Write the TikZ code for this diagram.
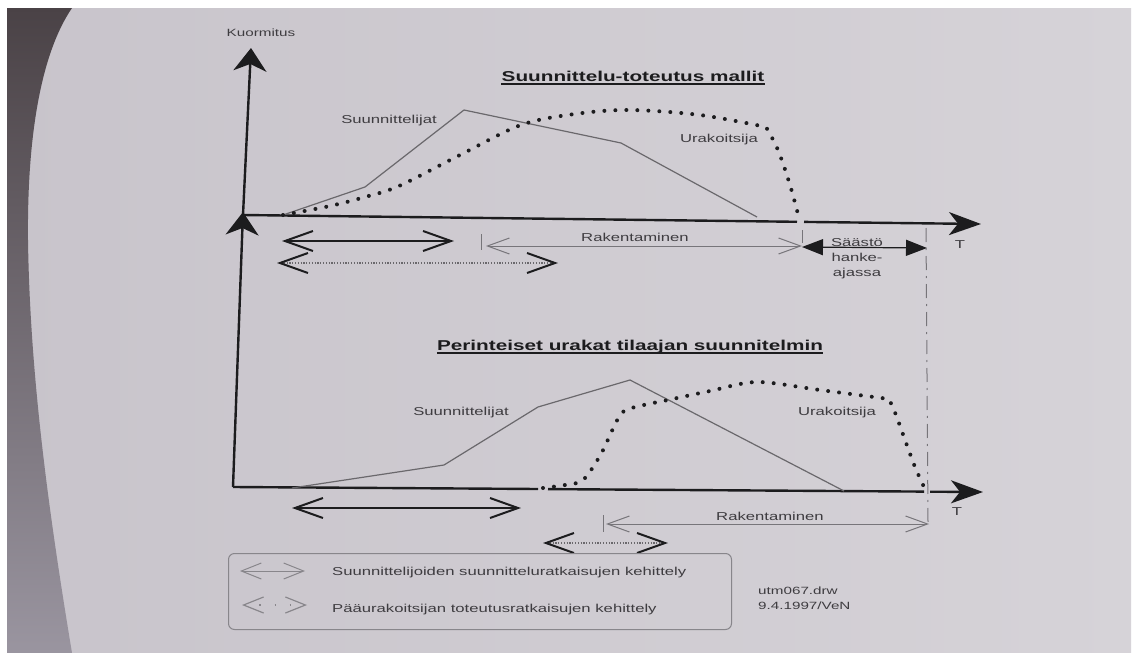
\documentclass[tikz,border=0pt]{standalone}
\usepackage{fontspec}
\setmainfont{Liberation Sans}
\usetikzlibrary{arrows.meta}
\definecolor{ink}{HTML}{1C1C1E}
\definecolor{labelc}{HTML}{3E3C40}
\definecolor{curvec}{HTML}{6A686C}
\definecolor{thinc}{HTML}{77757A}
\definecolor{legc}{HTML}{88868B}
\definecolor{paperL}{HTML}{C8C4CB}
\definecolor{paperR}{HTML}{D6D3D8}
\definecolor{shadeT}{HTML}{4A4246}
\definecolor{shadeB}{HTML}{9A95A0}
\newcommand{\wx}[1]{\scalebox{1.45}[1]{#1}}
\begin{document}
\begin{tikzpicture}[x=1pt,y=-1pt,
  axis/.style={draw=ink, line width=2.4pt},
  vtip/.style={-{Stealth[length=23pt,width=33pt,inset=7pt]}},
  htip/.style={-{Stealth[length=32pt,width=23pt,inset=9pt]}},
  design/.style={draw=curvec, line width=1.2pt, line join=round},
  contr/.style={draw=ink, line width=4pt, line cap=round, dash pattern=on 0pt off 11pt},
  dbl/.style={draw=ink, line width=2pt, {Straight Barb[length=28pt,width=20pt]}-{Straight Barb[length=28pt,width=20pt]}},
  dbldot/.style={draw=curvec, line width=1.3pt, dash pattern=on 1.2pt off 1.6pt, {Straight Barb[length=28pt,width=20pt,color=ink,line width=2pt]}-{Straight Barb[length=28pt,width=20pt,color=ink,line width=2pt]}},
  rak/.style={draw=thinc, line width=1pt, {Straight Barb[length=22pt,width=16pt]}-{Straight Barb[length=22pt,width=16pt]}},
  tick/.style={draw=thinc, line width=1pt},
  saa/.style={draw=ink, line width=1.2pt, {Triangle[length=21pt,width=16pt]}-{Triangle[length=21pt,width=16pt]}},
  dashdot/.style={draw=thinc, line width=1pt, dash pattern=on 14pt off 6pt on 2pt off 6pt},
  leg/.style={draw=legc, line width=1pt, {Straight Barb[length=20pt,width=16pt]}-{Straight Barb[length=20pt,width=16pt]}},
  legdot/.style={draw=legc, line width=1.2pt, dash pattern=on 1.2pt off 14pt, {Straight Barb[length=20pt,width=16pt]}-{Straight Barb[length=20pt,width=16pt]}},
  lbl/.style={inner sep=0pt, text=labelc, font=\fontsize{11.5}{14}\selectfont},
  ttl/.style={inner sep=0pt, text=ink, font=\fontsize{14.3}{17}\selectfont\bfseries},
  small/.style={inner sep=0pt, text=labelc, font=\fontsize{10.5}{13}\selectfont}
]
\useasboundingbox (0,0) rectangle (1136,653);
% background (photo of the page)
\fill[white] (0,0) rectangle (1136,653);
\shade[left color=paperL, right color=paperR] (7,8) rectangle (1131,653);
\shade[top color=shadeT, bottom color=shadeB] (7,8) -- (72,8) .. controls (40,55) and (27,140) .. (28,240) .. controls (30,380) and (50,520) .. (72,653) -- (7,653) -- cycle;

% coordinates
\coordinate (o1) at (243,215);
\coordinate (y1) at (251,48);
\coordinate (o2) at (233,487);
\coordinate (y2) at (243,212);
\coordinate (g1a) at (797,221.8);
\coordinate (g1b) at (804,221.9);
\coordinate (x1) at (981,224);
\coordinate (g2a) at (538,489);
\coordinate (g2b) at (548,489.1);
\coordinate (g2c) at (924,491.6);
\coordinate (g2d) at (930,491.7);
\coordinate (x2) at (983,492);

% axes
\draw[axis,vtip] (o2) -- (y2);
\draw[axis,vtip] (o1) -- (y1);
\draw[axis] (o1) -- (g1a);
\draw[axis,htip] (g1b) -- (x1);
\draw[axis] (o2) -- (g2a);
\draw[axis] (g2b) -- (g2c);
\draw[axis,htip] (g2d) -- (x2);

% upper curves
\draw[design] (283,215) -- (365,187) -- (464,110) -- (621,143) -- (757,217);
\draw[contr] plot[smooth, tension=0.55] coordinates {(283,215) (330,206) (365,197) (399,186) (460,155) (521,125) (575,114) (629,110) (700,115) (766,127)}
  -- plot[smooth, tension=0.55] coordinates {(766,127) (778,150) (790,185) (799,218)};

% lower curves
\draw[design] (292,488) -- (444,465) -- (538,407) -- (630,380) -- (844,491);
\draw[contr] plot[smooth, tension=0.5] coordinates {(543,488) (565,485) (583,480) (601,454) (621,414) (640,406) (668,400) (710,391) (757,382) (820,390) (889,399)}
  -- plot[smooth, tension=0.5] coordinates {(889,399) (896,415) (905,440) (915,467) (924,487)};

% titles
\node[ttl, anchor=base] (title1) at (633,81) {\wx{Suunnittelu-toteutus mallit}};
\draw[ink, line width=1.2pt] ([yshift=-3pt]title1.base west) -- ([yshift=-3pt]title1.base east);
\node[ttl, anchor=base] (title2) at (630,350) {\wx{Perinteiset urakat tilaajan suunnitelmin}};
\draw[ink, line width=1.2pt] ([yshift=-3pt]title2.base west) -- ([yshift=-3pt]title2.base east);

% labels
\node[small, anchor=base] (kuorm) at (261,36) {\wx{Kuormitus}};
\node[lbl, anchor=base] (sunn1) at (389,123) {\wx{Suunnittelijat}};
\node[lbl, anchor=base] (urak1) at (719,142) {\wx{Urakoitsija}};
\node[lbl, anchor=base] (sunn2) at (461,415) {\wx{Suunnittelijat}};
\node[lbl, anchor=base] (urak2) at (837,415) {\wx{Urakoitsija}};
\node[lbl, anchor=base] (T1) at (960,248) {\wx{T}};
\node[lbl, anchor=base] (T2) at (957,515) {\wx{T}};

% upper period arrows
\coordinate (d1a) at (282,241); \coordinate (d1b) at (454,241);
\draw[dbl] (d1a) -- (d1b);
\coordinate (p1a) at (277,263); \coordinate (p1b) at (558,263);
\draw[dbldot] (p1a) -- (p1b);
\coordinate (r1a) at (486,246); \coordinate (r1b) at (802,246);
\draw[rak] (r1a) -- (r1b);
\draw[tick] (481,234) -- (481,250);
\node[lbl, anchor=base] (rak1) at (635,241) {\wx{Rakentaminen}};
\draw[tick] (802,230) -- (802,243);
\coordinate (s1a) at (802,247); \coordinate (s1b) at (927,248);
\draw[saa] (s1a) -- (s1b);
\node[lbl, anchor=base] (saa1) at (857,246) {\wx{Säästö}};
\node[lbl, anchor=base] (saa2) at (857,261) {\wx{hanke-}};
\node[lbl, anchor=base] (saa3) at (857,276) {\wx{ajassa}};
\coordinate (dd1) at (926,228); \coordinate (dd2) at (928,522);
\draw[dashdot] (dd1) -- (dd2);

% lower period arrows
\coordinate (d2a) at (292,508); \coordinate (d2b) at (521,508);
\draw[dbl] (d2a) -- (d2b);
\coordinate (r2a) at (606,524); \coordinate (r2b) at (929,524);
\draw[rak] (r2a) -- (r2b);
\draw[tick] (603,515) -- (603,532);
\node[lbl, anchor=base] (rak2) at (770,520) {\wx{Rakentaminen}};
\coordinate (p2a) at (543,543); \coordinate (p2b) at (668,543);
\draw[dbldot] (p2a) -- (p2b);

% legend
\node[draw=legc, line width=1pt, rounded corners=6pt, minimum width=503pt, minimum height=76pt, inner sep=0pt, anchor=north west] (legend) at (228,553) {};
\coordinate (l1a) at (240,571); \coordinate (l1b) at (305,571);
\draw[leg] (l1a) -- (l1b);
\coordinate (l2a) at (242,605); \coordinate (l2b) at (307,605);
\draw[legdot] (l2a) -- (l2b);
\node[lbl, anchor=base west] (leg1) at (332,575) {\wx{Suunnittelijoiden suunnitteluratkaisujen kehittely}};
\node[lbl, anchor=base west] (leg2) at (332,612) {\wx{Pääurakoitsijan toteutusratkaisujen kehittely}};
\node[small, anchor=base west] (file) at (758,594) {\wx{utm067.drw}};
\node[small, anchor=base west] (date) at (758,609) {\wx{9.4.1997/VeN}};
\end{tikzpicture}
\end{document}
